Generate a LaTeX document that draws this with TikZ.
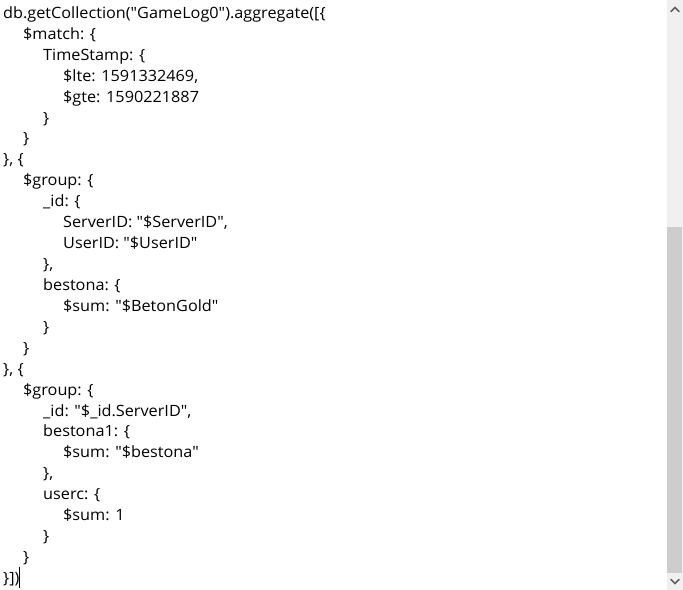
\documentclass[tikz,border=0pt]{standalone}
\usepackage{fontspec}
\usepackage{tikz}
\usetikzlibrary{positioning}
\newfontfamily\codefont[FakeStretch=1.045]{Open Sans}

\definecolor{trackgray}{HTML}{F0F0F0}
\definecolor{thumbgray}{HTML}{CDCDCD}
\definecolor{arrowgray}{HTML}{606060}

\tikzset{
    codeline/.style={inner sep=0pt, anchor=base west, text=black,
        font=\codefont\fontsize{15.6}{20}\selectfont},
    chevron/.style={draw=arrowgray, line width=1.6bp, line cap=round, line join=miter}
}

\begin{document}
\begin{tikzpicture}[x=1bp, y=-1bp]
            \useasboundingbox[fill=white] (0, 0) rectangle (683, 590);

            \node[codeline] (open) at (3, 18.5) {db.getCollection("GameLog0").aggregate([\{};
            \node[codeline] (match) at (23, 39.4) {\$match: \{};
            \node[codeline] (timestamp) at (43, 60.3) {TimeStamp: \{};
            \node[codeline] (lte) at (63, 81.3) {\$lte: 1591332469,};
            \node[codeline] (gte) at (63, 102.2) {\$gte: 1590221887};
            \node[codeline] (close_ts) at (43, 123.1) {\}};
            \node[codeline] (close_match) at (23, 144.0) {\}};
            \node[codeline] (sep1) at (3, 164.9) {\}, \{};
            \node[codeline] (group1) at (23, 185.9) {\$group: \{};
            \node[codeline] (id1) at (43, 206.8) {\_id: \{};
            \node[codeline] (serverid) at (63, 227.7) {ServerID: "\$ServerID",};
            \node[codeline] (userid) at (63, 248.6) {UserID: "\$UserID"};
            \node[codeline] (close_id1) at (43, 269.5) {\},};
            \node[codeline] (bestona) at (43, 290.5) {bestona: \{};
            \node[codeline] (sum_gold) at (63, 311.4) {\$sum: "\$BetonGold"};
            \node[codeline] (close_bestona) at (43, 332.3) {\}};
            \node[codeline] (close_group1) at (23, 353.2) {\}};
            \node[codeline] (sep2) at (3, 374.1) {\}, \{};
            \node[codeline] (group2) at (23, 395.1) {\$group: \{};
            \node[codeline] (id2) at (43, 416.0) {\_id: "\$\_id.ServerID",};
            \node[codeline] (bestona1) at (43, 436.9) {bestona1: \{};
            \node[codeline] (sum_bestona) at (63, 457.8) {\$sum: "\$bestona"};
            \node[codeline] (close_bestona1) at (43, 478.7) {\},};
            \node[codeline] (userc) at (43, 499.7) {userc: \{};
            \node[codeline] (sum_one) at (63, 520.6) {\$sum: 1};
            \node[codeline] (close_userc) at (43, 541.5) {\}};
            \node[codeline] (close_group2) at (23, 562.4) {\}};
            \node[codeline] (close_all) at (3, 583.3) {\}])};

            % text cursor
            \coordinate (cursor_top) at (19.2, 567);
            \coordinate (cursor_bot) at (19.2, 588);
            \draw[line width=0.8bp] (cursor_top) -- (cursor_bot);

            % scrollbar
            \fill[trackgray] (667, 0) rectangle (683, 590);
            \fill[thumbgray] (667.3, 227) rectangle (682, 573);
            \draw[chevron] (671, 11.5) -- (675, 7.5) -- (679, 11.5);
            \draw[chevron] (671, 579.5) -- (675, 583.5) -- (679, 579.5);
        \end{tikzpicture}
\end{document}
